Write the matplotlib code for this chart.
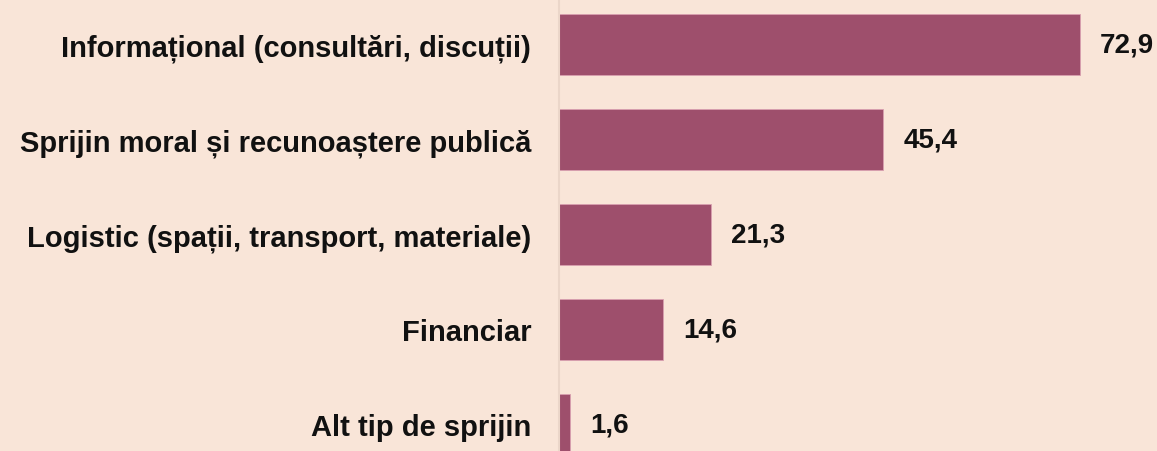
import matplotlib.pyplot as plt

# data
categories = ["Informațional (consultări, discuții)",
              "Sprijin moral și recunoaștere publică",
              "Logistic (spații, transport, materiale)",
              "Financiar",
              "Alt tip de sprijin"]
values = [72.9, 45.4, 21.3, 14.6, 1.6]
value_labels = ["72,9", "45,4", "21,3", "14,6", "1,6"]

bg = "#F9E5D8"
bar_color = "#9E4F6C"

plt.rcParams['font.family'] = ['Liberation Sans', 'DejaVu Sans']

fig = plt.figure(figsize=(11.57, 4.52), dpi=100, facecolor=bg)
ax = fig.add_axes([559 / 1157, 0, 598 / 1157, 1])
ax.set_facecolor(bg)

ypos = list(range(len(categories)))
ax.barh(ypos, values, height=0.65, color=bar_color, edgecolor="#D9A0B0", linewidth=0.6)

for y, v, lab in zip(ypos, values, value_labels):
    ax.text(v + 2.8, y, lab, va="center", ha="left", fontsize=20, fontweight="bold", color="#111111")

ax.set_yticks(ypos)
ax.set_yticklabels(categories, fontsize=21, fontweight="bold", color="#111111")
ax.tick_params(axis="y", length=0, pad=20)
ax.set_xticks([])
ax.set_xlim(0, 83.7)
ax.set_ylim(4.279, -0.479)

for s in ["top", "right", "bottom"]:
    ax.spines[s].set_visible(False)
ax.spines["left"].set_color("#EBD6C9")
ax.spines["left"].set_linewidth(1.5)

fig.savefig("out.png", dpi=100, facecolor=bg)
